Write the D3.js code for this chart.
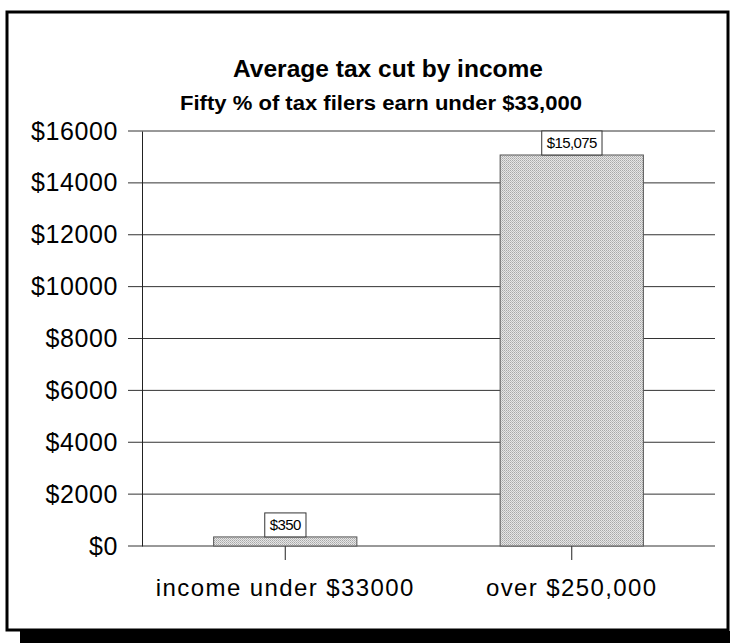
<!DOCTYPE html>
<html><head><meta charset="utf-8">
<script src="https://cdn.jsdelivr.net/npm/d3@7"></script>
<style>body{margin:0;background:#fff}svg{display:block}</style>
</head><body>
<svg id="c" width="730" height="643"></svg>
<script>
const categories = ["income under $33000", "over $250,000"];
const values = [350, 15075];
const valueLabels = ["$350", "$15,075"];
const yTicks = [0, 2000, 4000, 6000, 8000, 10000, 12000, 14000, 16000];
const title = "Average tax cut by income";
const subtitle = "Fifty % of tax filers earn under $33,000";

const svg = d3.select("#c");
const font = "'Liberation Sans', Arial, sans-serif";

// pattern
const defs = svg.append("defs");
const pat = defs.append("pattern").attr("id","stip").attr("width",2).attr("height",2).attr("patternUnits","userSpaceOnUse");
pat.append("rect").attr("width",2).attr("height",2).attr("fill","#e6e6e6");
pat.append("rect").attr("width",1).attr("height",1).attr("fill","#a8a8a8");
pat.append("rect").attr("x",1).attr("y",1).attr("width",1).attr("height",1).attr("fill","#bdbdbd");

// frame + shadow
svg.append("rect").attr("x",20).attr("y",631).attr("width",710).attr("height",12).attr("fill","#000");
svg.append("rect").attr("x",7).attr("y",12).attr("width",721).attr("height",618).attr("fill","#fff").attr("stroke","#000").attr("stroke-width",3);

const x = d3.scaleBand().domain(categories).range([142, 715]).paddingInner(0.5).paddingOuter(0.25);
const y = d3.scaleLinear().domain([0, 16000]).range([546, 131]);

// gridlines
svg.append("g").selectAll("line").data(yTicks).join("line")
  .attr("x1",128).attr("x2",715).attr("y1",d=>y(d)).attr("y2",d=>y(d))
  .attr("stroke","#333").attr("stroke-width",1);

// y axis
const yAxis = d3.axisLeft(y).tickValues(yTicks).tickSize(0).tickPadding(24).tickFormat(d=>"$"+d);
const gy = svg.append("g").attr("transform","translate(142,0)").call(yAxis);
gy.select(".domain").attr("stroke","#222");
gy.selectAll("text").attr("font-family",font).attr("font-size",25).attr("fill","#000").attr("letter-spacing",0.6);

// x axis
const xAxis = d3.axisBottom(x).tickSize(14).tickPadding(19);
const gx = svg.append("g").attr("transform","translate(0,546)").call(xAxis);
gx.select(".domain").remove();
gx.selectAll(".tick line").attr("stroke","#222");
gx.selectAll("text").attr("font-family",font).attr("font-size",24).attr("fill","#000").attr("letter-spacing",1.4);

// bars
svg.append("g").selectAll("rect").data(values).join("rect")
  .attr("x",(d,i)=>x(categories[i])).attr("width",x.bandwidth())
  .attr("y",d=>y(d)).attr("height",d=>y(0)-y(d))
  .attr("fill","url(#stip)").attr("stroke","#555").attr("stroke-width",1);

// value labels
const lg = svg.append("g");
values.forEach((v,i)=>{
  const cx = x(categories[i]) + x.bandwidth()/2;
  const t = lg.append("text").attr("x",cx).attr("y",y(v)-7).attr("text-anchor","middle")
    .attr("font-family",font).attr("font-size",15).attr("letter-spacing",-0.6).text(valueLabels[i]);
  const bb = t.node().getBBox();
  lg.insert("rect","text").attr("x",bb.x-5).attr("y",y(v)-24).attr("width",bb.width+10).attr("height",24)
    .attr("fill","#fff").attr("stroke","#333").attr("stroke-width",1);
});

// titles
svg.append("text").attr("x",388).attr("y",77).attr("text-anchor","middle")
  .attr("font-family",font).attr("font-weight","bold").attr("font-size",24)
  .attr("textLength",310).attr("lengthAdjust","spacingAndGlyphs").text(title);
svg.append("text").attr("x",381).attr("y",110).attr("text-anchor","middle")
  .attr("font-family",font).attr("font-weight","bold").attr("font-size",20)
  .attr("textLength",402).attr("lengthAdjust","spacingAndGlyphs").text(subtitle);
</script>
</body></html>
